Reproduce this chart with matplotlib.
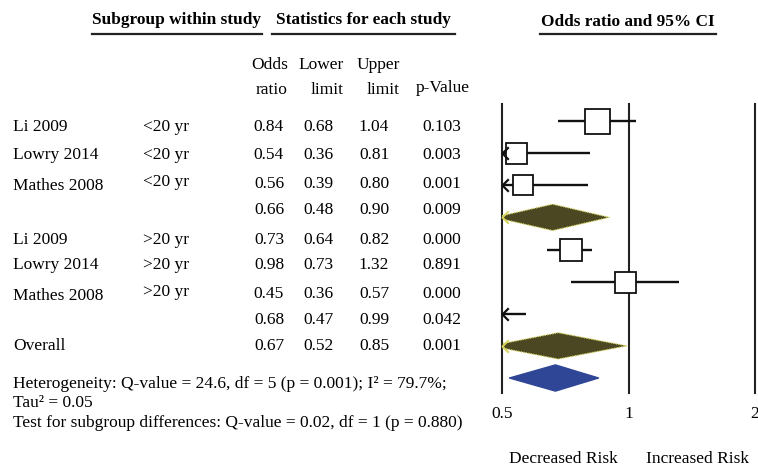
import matplotlib
matplotlib.use("Agg")
import matplotlib.pyplot as plt
from matplotlib.path import Path
from matplotlib.patches import Polygon
from matplotlib.lines import Line2D
from matplotlib.ticker import NullLocator, FixedLocator, FixedFormatter

# ---------------- data ----------------
studies = ["Li 2009", "Lowry 2014", "Mathes 2008", "", "Li 2009", "Lowry 2014", "Mathes 2008", "", "Overall"]
subgroups = ["<20 yr", "<20 yr", "<20 yr", "", ">20 yr", ">20 yr", ">20 yr", "", ""]
row_kind = ["study", "study", "study", "subtotal", "study", "study", "study", "subtotal", "overall"]
odds_ratio = [0.84, 0.54, 0.56, 0.66, 0.73, 0.98, 0.45, 0.68, 0.67]
lower_limit = [0.68, 0.36, 0.39, 0.48, 0.64, 0.73, 0.36, 0.47, 0.52]
upper_limit = [1.04, 0.81, 0.80, 0.90, 0.82, 1.32, 0.57, 0.99, 0.85]
p_values = ["0.103", "0.003", "0.001", "0.009", "0.000", "0.891", "0.000", "0.042", "0.001"]
box_weights = [25, 21, 20, 0, 23, 21, 20, 0, 0]   # relative box sizes
x_ticks = [0.5, 1, 2]
x_tick_labels = ["0.5", "1", "2"]
footnotes = [
    "Heterogeneity: Q-value = 24.6, df = 5 (p = 0.001); I\u00b2 = 79.7%;",
    "Tau\u00b2 = 0.05",
    "Test for subgroup differences: Q-value = 0.02, df = 1 (p = 0.880)",
]

# ---------------- style ----------------
W, H = 758, 469
plt.rcParams["font.family"] = ["Liberation Serif", "DejaVu Serif"]
FS = 12.5
fig = plt.figure(figsize=(W / 100, H / 100), dpi=100)
fig.patch.set_facecolor("white")


def fx(px):
    return px / W


def fy(py):
    return 1 - py / H


def ftext(x, y, s, **kw):
    kw.setdefault("fontsize", FS)
    kw.setdefault("va", "center")
    fig.text(fx(x), fy(y), s, **kw)


def hline(x0, x1, y, lw=1.6):
    fig.add_artist(Line2D([fx(x0), fx(x1)], [fy(y), fy(y)], color="#222222", lw=lw))


# headers
ftext(177, 20, "Subgroup within study", ha="center", fontweight="bold", fontsize=12.4)
hline(92, 262, 34)
ftext(363, 20, "Statistics for each study", ha="center", fontweight="bold", fontsize=12.4)
hline(272, 455, 34)
ftext(628, 22, "Odds ratio and 95% CI", ha="center", fontweight="bold", fontsize=12.4)
hline(540, 716, 34)

for txt, x, y in [("Odds", 288, 65), ("ratio", 288, 90), ("Lower", 344, 65), ("limit", 344, 90),
                  ("Upper", 400, 65), ("limit", 400, 90), ("p-Value", 470, 88)]:
    ftext(x, y, txt, ha="right")

# table rows
text_rows = [127, 155, 184, 210, 240, 265, 294, 320, 346]
for i, ty in enumerate(text_rows):
    is_mathes = studies[i].startswith("Mathes")
    if studies[i]:
        ftext(13, ty + (1.5 if is_mathes else 0), studies[i], ha="left")
    if subgroups[i]:
        ftext(143, ty - (1.5 if is_mathes else 0), subgroups[i], ha="left")
    ftext(269, ty, f"{odds_ratio[i]:.2f}", ha="center")
    ftext(318, ty, f"{lower_limit[i]:.2f}", ha="center")
    ftext(374, ty, f"{upper_limit[i]:.2f}", ha="center")
    ftext(442, ty, p_values[i], ha="center")

for s, y in zip(footnotes, [384, 403, 423]):
    ftext(13, y, s, ha="left")

# ---------------- forest axes ----------------
top_px, bot_px = 104, 393
row0_px, row_step = 121, 32.125
ax = fig.add_axes([fx(502), fy(bot_px), fx(755) - fx(502), (bot_px - top_px) / H])
ax.set_xscale("log", base=2)
ax.set_xlim(0.5, 2)
ax.set_ylim((bot_px - row0_px) / row_step, (top_px - row0_px) / row_step)
for sp in ax.spines.values():
    sp.set_visible(False)
ax.set_yticks([])
ax.xaxis.set_major_locator(FixedLocator(x_ticks))
ax.xaxis.set_major_formatter(FixedFormatter(x_tick_labels))
ax.xaxis.set_minor_locator(NullLocator())
ax.tick_params(axis="x", length=0, pad=9, labelsize=FS)
ax.patch.set_alpha(0)

for xv in x_ticks:
    ax.axvline(xv, color="#222222", lw=1.5, clip_on=False, zorder=1)

chevron = Path([(1, 1), (0, 0), (1, -1)], [Path.MOVETO, Path.LINETO, Path.LINETO])
xmin = ax.get_xlim()[0]
olive, olive_edge, blue = "#4a4722", "#d6d45c", "#2f4696"

for i, kind in enumerate(row_kind):
    est, lo, hi = odds_ratio[i], lower_limit[i], upper_limit[i]
    if kind == "study":
        ax.plot([max(lo, xmin), hi], [i, i], color="#111111", lw=1.7, zorder=2, solid_capstyle="butt")
        ax.plot([est], [i], marker="s", ms=box_weights[i] * 0.72, mfc="white", mec="#111111",
                mew=1.3, zorder=3, linestyle="none")
        if lo < xmin:
            ax.plot([xmin], [i], marker=chevron, ms=9, mfc="none", mec="#111111", mew=1.6,
                    clip_on=False, zorder=4, linestyle="none")
    else:
        h = 0.41
        fc = olive if kind == "subtotal" else blue
        ec = olive_edge if kind == "subtotal" else blue
        poly = Polygon([(lo, i), (est, i - h), (hi, i), (est, i + h)], closed=True, fc=fc, ec=ec,
                       lw=0.9, ls=(0, (1, 1)) if kind == "subtotal" else "-", zorder=3)
        ax.add_patch(poly)
        if lo < xmin:
            ax.plot([xmin], [i], marker=chevron, ms=9, mfc="none", mec=olive_edge, mew=1.4,
                    clip_on=False, zorder=4, linestyle="none")

ftext(563, 459, "Decreased Risk", ha="center")
ftext(697, 459, "Increased Risk", ha="center")

fig.savefig("out.png", dpi=100)
